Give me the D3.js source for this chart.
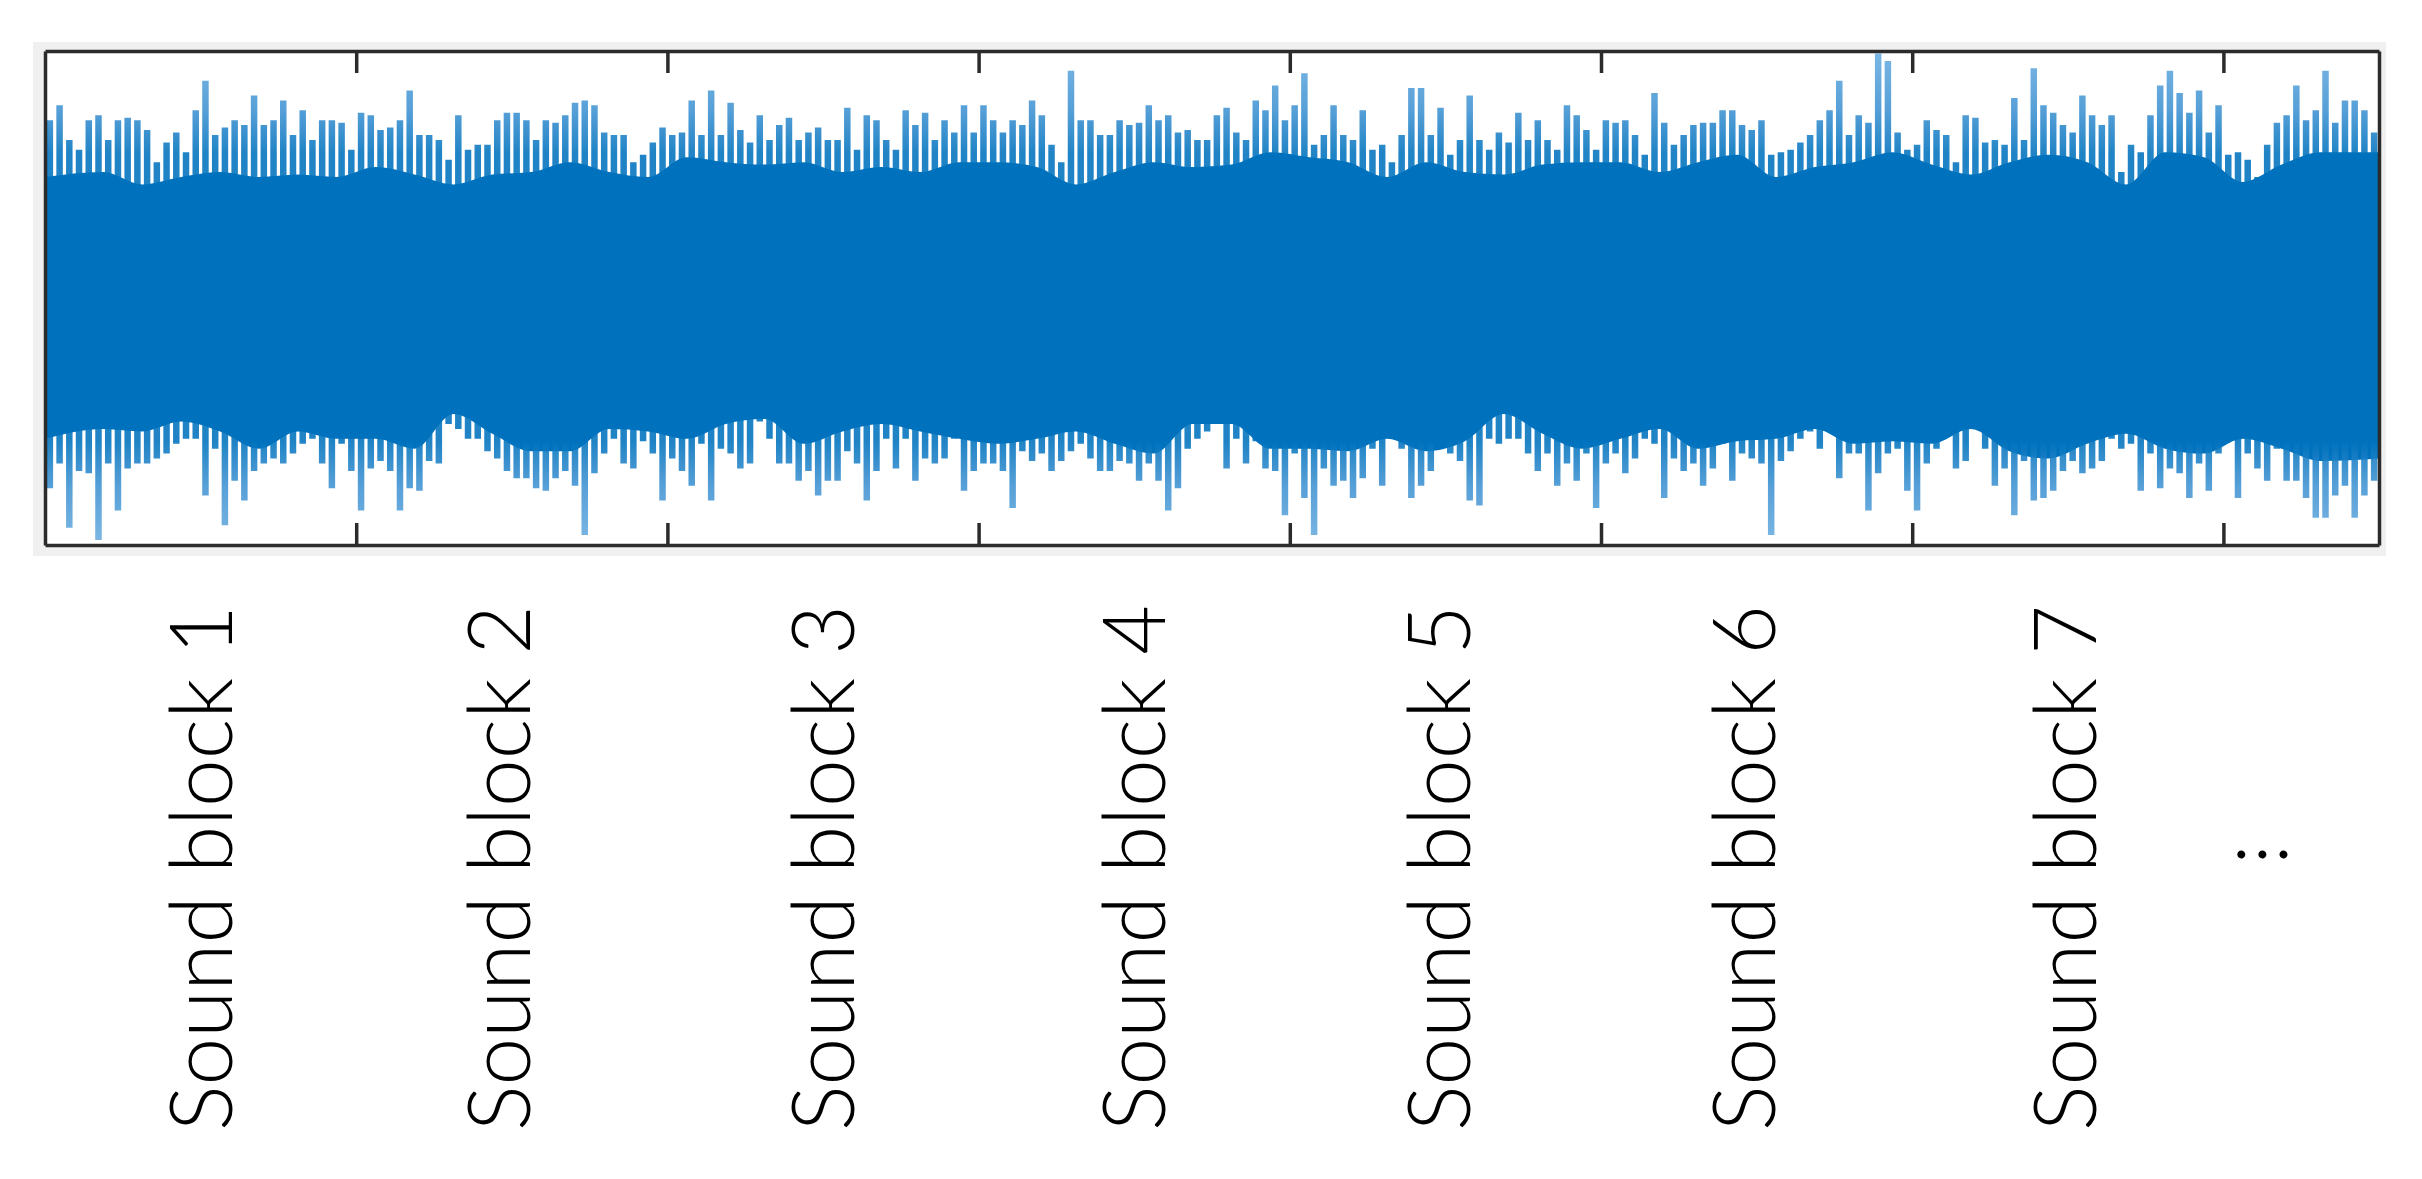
<!DOCTYPE html>
<html>
<head>
    <meta charset="UTF-8">
    <title>Sound blocks</title>

    <script type="text/javascript" src="https://d3js.org/d3.v7.min.js"></script>

    <style>
        body {
            margin: 0;
            background: #ffffff;
        }
        .frame path, .frame line {
            stroke: #2b2b2b;
            stroke-width: 3.5;
        }
        .label {
            font-family: Lato, "Liberation Sans", sans-serif;
            font-weight: 300;
            font-size: 86px;
            fill: #000000;
        }
    </style>
</head>

<body>
<div id="chart"></div>

<script>
    // x runs in blocks, y is amplitude in % of full scale
    var blockTicks = [1, 2, 3, 4, 5, 6, 7];
    var blockNames = ["Sound block 1", "Sound block 2", "Sound block 3", "Sound block 4",
        "Sound block 5", "Sound block 6", "Sound block 7"];
    var labelAt = [0.5, 1.46, 2.5, 3.5, 4.48, 5.46, 6.49];
    var moreAt = 7.125;

    // peaks per bin (240 bins over 7.5 blocks)
    var peakTop = [
        72, 78, 64, 60, 72, 74, 64, 72, 73, 72, 68, 55, 63, 67, 59, 76, 88, 66, 69, 72,
        70, 82, 70, 72, 80, 66, 76, 64, 72, 72, 71, 60, 75, 74, 68, 69, 72, 84, 66, 66,
        64, 56, 74, 60, 62, 62, 72, 75, 75, 72, 64, 72, 71, 74, 79, 80, 78, 67, 66, 66,
        55, 58, 63, 69, 66, 67, 80, 66, 84, 66, 79, 68, 63, 74, 64, 70, 73, 64, 67, 69,
        64, 64, 77, 60, 74, 72, 64, 60, 76, 70, 75, 64, 72, 67, 78, 67, 78, 72, 67, 72,
        70, 80, 74, 62, 55, 92, 72, 72, 66, 66, 72, 70, 71, 78, 72, 74, 67, 68, 64, 64,
        74, 77, 67, 64, 80, 76, 86, 72, 78, 91, 62, 66, 78, 66, 64, 76, 60, 62, 55, 66,
        85, 85, 66, 77, 58, 64, 82, 64, 60, 67, 63, 75, 64, 72, 64, 60, 78, 74, 68, 60,
        72, 71, 72, 66, 58, 83, 71, 62, 66, 70, 71, 71, 76, 76, 70, 68, 72, 58, 59, 60,
        63, 66, 72, 76, 88, 66, 74, 71, 99, 96, 67, 60, 62, 72, 68, 66, 55, 74, 73, 63,
        64, 62, 81, 64, 93, 78, 75, 70, 67, 82, 74, 70, 74, 51, 62, 59, 74, 86, 92, 83,
        75, 84, 67, 78, 58, 59, 56, 49, 62, 71, 74, 86, 72, 76, 92, 71, 80, 80, 76, 67
    ];
    var peakBottom = [
        -77, -67, -93, -70, -71, -98, -67, -86, -69, -67, -67, -65, -63, -59, -57, -57, -80, -61, -92, -74,
        -82, -70, -67, -65, -67, -63, -59, -57, -67, -77, -59, -70, -86, -69, -66, -70, -86, -77, -78, -66,
        -67, -51, -53, -57, -57, -62, -65, -70, -73, -73, -77, -78, -73, -70, -76, -96, -71, -63, -57, -67,
        -69, -58, -63, -82, -65, -70, -76, -59, -82, -61, -63, -69, -67, -50, -57, -67, -67, -74, -70, -80,
        -74, -74, -62, -67, -82, -70, -57, -69, -57, -74, -65, -67, -65, -57, -78, -70, -67, -67, -70, -85,
        -62, -66, -63, -70, -66, -62, -59, -65, -70, -70, -66, -67, -74, -67, -74, -86, -77, -61, -57, -54,
        -51, -69, -57, -67, -58, -69, -70, -88, -63, -81, -96, -69, -76, -74, -81, -73, -61, -76, -57, -61,
        -81, -76, -70, -57, -63, -66, -82, -84, -57, -59, -57, -57, -63, -70, -63, -76, -67, -74, -63, -85,
        -67, -63, -71, -65, -57, -59, -81, -65, -70, -67, -76, -69, -59, -74, -63, -65, -67, -96, -66, -62,
        -57, -54, -61, -54, -73, -63, -63, -86, -71, -63, -61, -78, -86, -67, -61, -51, -69, -66, -50, -61,
        -76, -69, -88, -66, -82, -81, -78, -70, -66, -71, -69, -66, -57, -61, -59, -78, -63, -77, -69, -71,
        -81, -67, -78, -63, -57, -81, -63, -69, -74, -61, -74, -74, -81, -89, -89, -80, -76, -89, -80, -74
    ];

    // fully solid body of the signal (60 groups of 4 bins)
    var coreTop = [
        49, 51, 46, 49, 51, 49, 50, 49, 53, 50, 46, 50, 51, 55, 51,
        49, 57, 55, 54, 55, 51, 53, 51, 55, 55, 53, 46, 51, 55, 53, 54,
        59, 57, 55, 49, 55, 51, 50, 54, 55, 55, 51, 55, 58, 49, 53,
        55, 59, 54, 50, 55, 58, 55, 46, 59, 57, 47, 54, 59, 59
    ];
    var coreBottom = [
        -57, -53, -54, -50, -54, -61, -54, -57, -57, -61, -47, -55, -62, -62, -53,
        -54, -57, -51, -49, -59, -54, -51, -54, -57, -59, -57, -54, -59, -63, -51, -51,
        -61, -61, -62, -57, -62, -58, -47, -55, -61, -57, -53, -61, -58, -57, -53,
        -59, -58, -59, -53, -62, -65, -59, -55, -61, -63, -57, -61, -66, -65
    ];

    var width = 2422, height = 1179;
    var box = {left: 45, right: 2379, top: 51, bottom: 545};
    var blue = "#0072bd";
    var span = 7.5;

    var x = d3.scaleLinear().domain([0, span]).range([box.left, box.right]);
    var y = d3.scaleLinear().domain([-100, 100]).range([box.bottom, box.top]);

    var svg = d3.select("#chart").append("svg")
        .attr("width", width)
        .attr("height", height);

    // spike tips come out lighter, like thin anti-aliased lines
    var grad = svg.append("defs").append("linearGradient")
        .attr("id", "spike-fade")
        .attr("gradientUnits", "userSpaceOnUse")
        .attr("x1", 0).attr("x2", 0)
        .attr("y1", y(100)).attr("y2", y(-100));
    [[0, "#6aaee0"], [0.12, "#3f92d2"], [0.21, blue], [0.79, blue], [0.88, "#3f92d2"], [1, "#6aaee0"]]
        .forEach(function (s) {
            grad.append("stop").attr("offset", s[0]).attr("stop-color", s[1]);
        });

    // grey figure margin then white axes
    svg.append("rect")
        .attr("x", box.left - 12).attr("y", box.top - 9)
        .attr("width", box.right - box.left + 19).attr("height", box.bottom - box.top + 20)
        .attr("fill", "#f0f0f0");
    svg.append("rect")
        .attr("x", box.left).attr("y", box.top)
        .attr("width", box.right - box.left).attr("height", box.bottom - box.top)
        .attr("fill", "#ffffff");

    svg.append("clipPath").attr("id", "plot-clip")
        .append("rect")
        .attr("x", box.left).attr("y", box.top)
        .attr("width", box.right - box.left).attr("height", box.bottom - box.top);

    var wave = svg.append("g").attr("clip-path", "url(#plot-clip)");

    var core = coreTop.map(function (t, i) {
        var pos = (i + 0.5) * span / coreTop.length;
        if (i === 0) pos = 0;
        if (i === coreTop.length - 1) pos = span;
        return {pos: pos, top: t, bottom: coreBottom[i]};
    });

    var area = d3.area()
        .x(function (d) { return x(d.pos); })
        .y0(function (d) { return y(d.bottom); })
        .y1(function (d) { return y(d.top); })
        .curve(d3.curveMonotoneX);

    wave.append("path")
        .datum(core)
        .attr("d", area)
        .attr("fill", blue);

    var bins = peakTop.map(function (t, i) {
        return {pos: (i + 0.5) * span / peakTop.length, top: t, bottom: peakBottom[i]};
    });

    wave.selectAll(".spike")
        .data(bins)
        .enter()
        .append("line")
        .attr("class", "spike")
        .attr("x1", function (d) { return x(d.pos); })
        .attr("x2", function (d) { return x(d.pos); })
        .attr("y1", function (d) { return y(d.bottom); })
        .attr("y2", function (d) { return y(d.top); })
        .attr("stroke", "url(#spike-fade)")
        .attr("stroke-width", 6.5)
        .attr("stroke-opacity", 0.88);

    // box with inward ticks, no tick labels
    svg.append("g")
        .attr("class", "frame")
        .attr("transform", "translate(0," + box.bottom + ")")
        .call(d3.axisBottom(x).tickValues(blockTicks).tickSizeInner(-22).tickSizeOuter(0).tickFormat(""));
    svg.append("g")
        .attr("class", "frame")
        .attr("transform", "translate(0," + box.top + ")")
        .call(d3.axisTop(x).tickValues(blockTicks).tickSizeInner(-22).tickSizeOuter(0).tickFormat(""));
    svg.append("g")
        .attr("class", "frame")
        .attr("transform", "translate(" + box.left + ",0)")
        .call(d3.axisLeft(y).tickValues([]).tickSizeOuter(0));
    svg.append("g")
        .attr("class", "frame")
        .attr("transform", "translate(" + box.right + ",0)")
        .call(d3.axisRight(y).tickValues([]).tickSizeOuter(0));
    svg.selectAll(".frame path").attr("fill", "none");

    // rotated block names under the plot
    var capHalf = 31;
    svg.selectAll(".label")
        .data(blockNames)
        .enter()
        .append("text")
        .attr("class", "label")
        .attr("transform", function (d, i) {
            return "translate(" + (x(labelAt[i]) + capHalf) + ",1131) rotate(-90)";
        })
        .attr("textLength", 526)
        .attr("lengthAdjust", "spacingAndGlyphs")
        .text(function (d) { return d; });

    svg.append("text")
        .attr("class", "label")
        .attr("x", x(moreAt))
        .attr("y", 858)
        .attr("text-anchor", "middle")
        .text("\u2026");
</script>
</body>

</html>
